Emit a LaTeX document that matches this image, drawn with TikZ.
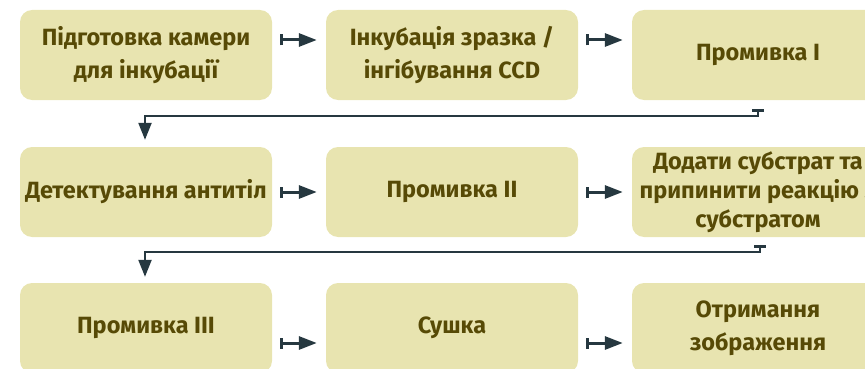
\documentclass[tikz,border=0pt]{standalone}
\usepackage{fontspec}
\setmainfont{Fira Sans}
\usetikzlibrary{arrows.meta,positioning}
\definecolor{boxfill}{HTML}{E8E4B0}
\definecolor{txtc}{HTML}{574A06}
\definecolor{arrc}{HTML}{263840}
\tikzset{
  box/.style={draw=none, fill=boxfill, rounded corners=12pt, minimum width=252pt, minimum height=90pt, inner sep=0pt, align=center, text=txtc, font=\bfseries\fontsize{23.5}{33}\selectfont},
  harr/.style={draw=arrc, line width=3pt, {Bar[width=11pt,line width=3pt]}-{Triangle[length=18pt,width=13pt]}},
  varr/.style={draw=arrc, line width=2.3pt, {Bar[width=12pt,line width=2.5pt]}-{Triangle[length=17pt,width=13pt]}}
}
\begin{document}
\begin{tikzpicture}[x=1pt,y=-1pt]
\useasboundingbox (0,0) rectangle (865,369);
\clip (0,0) rectangle (865,369);
\node[box] (b1) at (146,55) {Підготовка камери\\для інкубації};
\node[box] (b2) at (452,55) {Інкубація зразка /\\інгібування CCD};
\node[box] (b3) at (758,55) {Промивка І};
\node[box] (b4) at (146,192) {Детектування антитіл};
\node[box] (b5) at (452,192) {Промивка ІІ};
\node[box, font=\bfseries\fontsize{23.5}{29}\selectfont] (b6) at (758,192) {Додати субстрат та\\припинити реакцію з\\субстратом};
\node[box] (b7) at (146,328) {Промивка ІІІ};
\node[box] (b8) at (452,328) {Сушка};
\node[box] (b9) at (758,328) {Отримання\\зображення};
\draw[harr] ([xshift=8pt,yshift=15pt]b1.east) -- ([xshift=-9pt,yshift=15pt]b2.west);
\draw[harr] ([xshift=8pt,yshift=15pt]b2.east) -- ([xshift=-9pt,yshift=15pt]b3.west);
\draw[harr] ([xshift=8pt]b4.east) -- ([xshift=-9pt]b5.west);
\draw[harr] ([xshift=8pt]b5.east) -- ([xshift=-9pt]b6.west);
\draw[harr] ([xshift=8pt,yshift=-15pt]b7.east) -- ([xshift=-9pt,yshift=-15pt]b8.west);
\draw[harr] ([xshift=8pt,yshift=-15pt]b8.east) -- ([xshift=-9pt,yshift=-15pt]b9.west);
\draw[varr] ([yshift=-9pt]b3.south) -- ++(0,7) -| ([xshift=-1pt,yshift=7pt]b4.north);
\draw[varr] ([xshift=2pt,yshift=-8pt]b6.south) -- ++(0,7) -| ([xshift=-1pt,yshift=6pt]b7.north);
\end{tikzpicture}
\end{document}
